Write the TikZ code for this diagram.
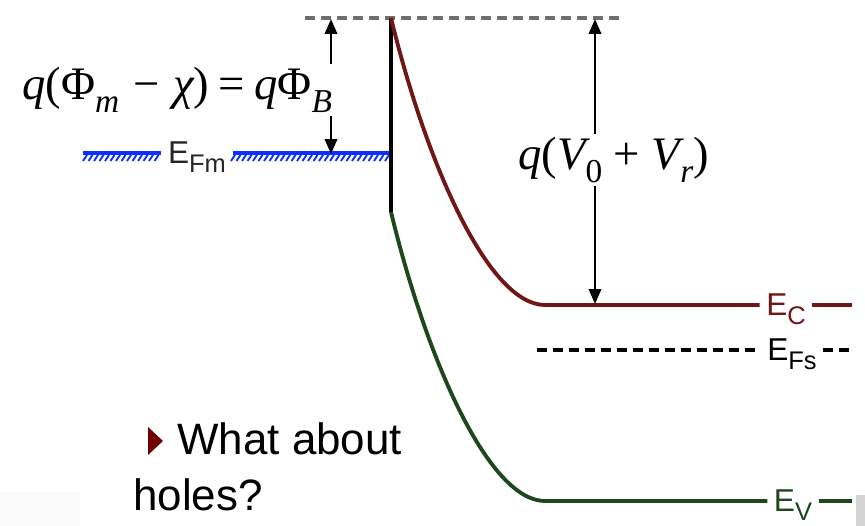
\documentclass[tikz,border=0pt]{standalone}
\usepackage{fontspec}
\setmainfont{Liberation Sans}
\newfontfamily\eqfont{Liberation Serif}
\usepackage{tikz}
\usetikzlibrary{arrows.meta,positioning}
\usepackage{xcolor}
\definecolor{condband}{RGB}{112,22,22}
\definecolor{valband}{RGB}{28,72,28}
\definecolor{metalblue}{RGB}{10,50,250}
\definecolor{vacgray}{RGB}{110,110,110}
\definecolor{bulletred}{RGB}{112,0,0}
\tikzset{
  % ---- band lines -------------------------------------------------------
  band/.style={line width=2.2pt},
  cband/.style={band, draw=condband},
  vband/.style={band, draw=valband},
  fermi/.style={line width=2.1pt, draw=black, dash pattern=on 5.7pt off 3.4pt},
  vacuum/.style={line width=2.1pt, draw=vacgray, dash pattern=on 5.7pt off 3.4pt},
  metal/.style={line width=2.2pt, draw=metalblue},
  hatch/.style={line width=1.1pt, draw=metalblue},
  wall/.style={line width=2.6pt, draw=black},
  % ---- arrows -----------------------------------------------------------
  dim/.style={{Triangle[length=8.5pt,width=7pt]}-{Triangle[length=8.5pt,width=7pt]},
              line width=1.4pt, draw=black},
  % ---- labels -----------------------------------------------------------
  elbl/.style={font=\fontsize{18}{18}\selectfont, inner xsep=3.6pt, inner ysep=0pt},
  eqlbl/.style={fill=white, inner xsep=0pt, inner ysep=2pt, anchor=base west},
  txt/.style={font=\fontsize{25}{30}\selectfont, inner sep=0pt, anchor=base west},
}
\newcommand{\esub}[1]{\smash{\raisebox{-0.28em}{\fontsize{14.5}{14.5}\selectfont #1}}}
\newcommand{\eqsub}[2]{\raisebox{-#2}{\fontsize{19}{19}\selectfont\itshape #1}}

\begin{document}
\begin{tikzpicture}[x=0.02cm,y=-0.02cm]
\useasboundingbox (0,0) rectangle (865,526);

% faint slide remnants
\fill[black!1.5] (0,492) rectangle (80,526);
\fill[black!17] (856,495) rectangle (865,526);

% ============================ key points ===================================
\coordinate (jtop)   at (391,18);
\coordinate (jbot)   at (391,212);
\coordinate (ecknee) at (545,305);
\coordinate (evknee) at (545,501);
\coordinate (ecend)  at (852,305);
\coordinate (evend)  at (852,501);
\coordinate (efsL)   at (537,350);
\coordinate (efsR)   at (852,350);
\coordinate (efmL)   at (83,153);
\coordinate (efmR)   at (389,153);
\coordinate (vacL)   at (305,18);
\coordinate (vacR)   at (622,18);
\coordinate (phiTop) at (331,19);
\coordinate (phiBot) at (331,154);
\coordinate (vTop)   at (595,19);
\coordinate (vBot)   at (595,304);

% ============================ level labels =================================
\node[elbl, text=condband] (ec)  at (786,305) {E\esub{C}};
\node[elbl]                (efs) at (792,350) {E\esub{Fs}};
\node[elbl, text=valband]  (ev)  at (793,501) {E\esub{V}};
\node[elbl, text=black!85] (efm) at (197,153) {E\esub{Fm}};

% ============================ metal side ===================================
\draw[vacuum] (vacL) -- (vacR);
\draw[metal] (efmL) -- (efm.west);
\draw[metal] (efm.east) -- (efmR);
\foreach \x in {87,92.5,...,160} { \draw[hatch] (\x,155) -- ++(-4,6); }
\foreach \x in {235,240.5,...,389} { \draw[hatch] (\x,155) -- ++(-4,6); }
\draw[wall] (jtop) -- (jbot);

% ============================ semiconductor ================================
\draw[cband] (jtop) .. controls (428,170) and (490,305) .. (ecknee) -- (ec.west);
\draw[cband] (ec.east) -- (ecend);
\draw[vband] (jbot) .. controls (428,365) and (490,501) .. (evknee) -- (ev.west);
\draw[vband] (ev.east) -- (evend);
\draw[fermi] (efsL) -- (efs.west);
\draw[fermi] (efs.east) -- (efsR);

% ============================ barrier heights ==============================
\draw[dim] (phiBot) -- (phiTop);
\draw[dim] (vBot) -- (vTop);

\node[eqlbl] (phib) at (22,100)
  {\eqfont\fontsize{26.5}{26.5}\selectfont\itshape q\upshape(Φ\eqsub{m}{0.27em}\hspace{0.3em}−\hspace{0.3em}\itshape χ\upshape)\hspace{0.2em}=\hspace{0.2em}\itshape q\upshape Φ\eqsub{B}{0.27em}};
\node[eqlbl] (vbi) at (518,170)
  {\eqfont\fontsize{26.5}{26.5}\selectfont\itshape q\upshape(\itshape V\eqsub{\upshape 0}{0.27em}\hspace{0.25em}\upshape+\hspace{0.25em}\itshape V\eqsub{r}{0.27em}\upshape)};

% ============================ question =====================================
\fill[bulletred] (148,427) -- (163,441) -- (148,455) -- cycle;
\node[txt] (q1) at (177,455) {What about};
\node[txt] (q2) at (133,510) {holes?};

\end{tikzpicture}
\end{document}
